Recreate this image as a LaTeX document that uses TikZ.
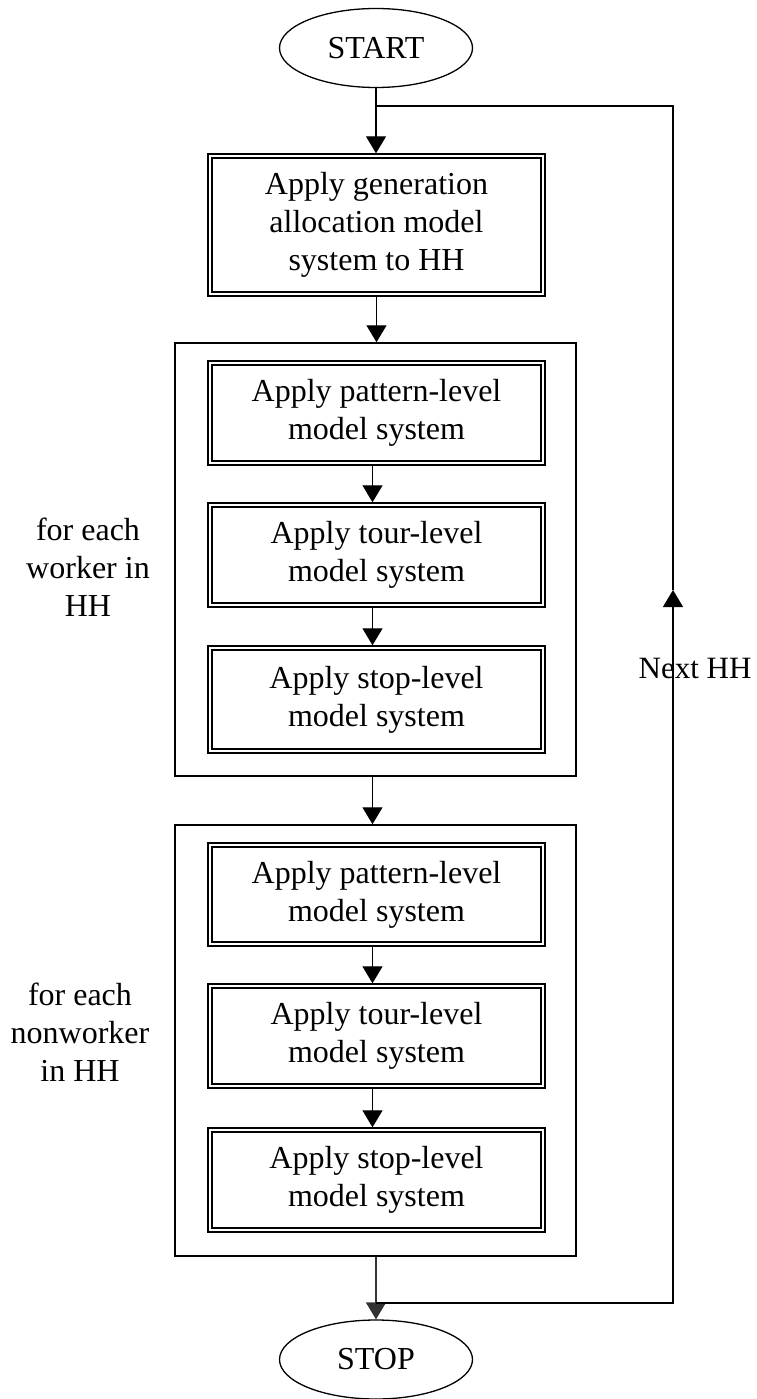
\documentclass[tikz,border=0pt]{standalone}
\usepackage{fontspec}
\setmainfont{Liberation Serif}
\usetikzlibrary{shapes.geometric,arrows.meta}
\begin{document}
\begin{tikzpicture}[x=1pt,y=-1pt,
  txt/.style={font=\fontsize{32}{38}\selectfont, align=center},
  term/.style={ellipse, draw, line width=1.3pt, minimum width=193pt, minimum height=79pt, inner sep=0pt, txt},
  proc/.style={draw, line width=1.4pt, minimum width=337pt, inner sep=0pt, txt},
  group/.style={draw, line width=1.5pt, minimum width=401pt, inner sep=0pt},
  conn/.style={line width=1.3pt},
  arr/.style={conn, -{Triangle[width=20pt,length=17pt]}},
]
\useasboundingbox (0,0) rectangle (757,1399);

% containers
\node[group, minimum height=433pt] (w) at (375.5,559.5) {};
\node[group, minimum height=431pt] (nw) at (375.5,1040.5) {};

% terminals
\node[term] (start) at (376,48) {START};
\node[term] (stop) at (376,1359.5) {STOP};

% process boxes
\node[proc, minimum height=142pt] (gen) at (376.5,225) {Apply generation\\allocation model\\system to HH};
\node[proc, minimum height=104pt] (pa) at (376.5,413) {Apply pattern-level\\model system};
\node[proc, minimum height=104pt] (pb) at (376.5,555) {Apply tour-level\\model system};
\node[proc, minimum height=107pt] (pc) at (376.5,699.5) {Apply stop-level\\model system};
\node[proc, minimum height=103pt] (pd) at (376.5,894.5) {Apply pattern-level\\model system};
\node[proc, minimum height=104pt] (pe) at (376.5,1036) {Apply tour-level\\model system};
\node[proc, minimum height=104pt] (pf) at (376.5,1180) {Apply stop-level\\model system};

\foreach \n in {gen,pa,pb,pc,pd,pe,pf}
  \draw[line width=2pt] ([shift={(5,5)}]\n.north west) rectangle ([shift={(-5,-5)}]\n.south east);

% side labels
\node[txt] (wlab) at (88,567) {for each\\worker in\\HH};
\node[txt] (nwlab) at (80,1032) {for each\\nonworker\\in HH};

% connectors
\draw[arr] (start.south) -- (start.south |- gen.north);
\draw[arr] (gen.south) -- (gen.south |- w.north);
\draw[arr] ([xshift=-4pt]pa.south) -- ([xshift=-4pt]pb.north);
\draw[arr] ([xshift=-4pt]pb.south) -- ([xshift=-4pt]pc.north);
\draw[arr] ([xshift=-3pt]w.south) -- ([xshift=-3pt]nw.north);
\draw[arr] ([xshift=-4pt]pd.south) -- ([xshift=-4pt]pe.north);
\draw[arr] ([xshift=-4pt]pe.south) -- ([xshift=-4pt]pf.north);
\draw[arr, draw=black!80, fill=black!80, line width=1.6pt] (stop.north |- nw.south) -- (stop.north);

% loop back
\coordinate (lb) at (376,1303);
\coordinate (rb) at (673,1303);
\coordinate (mid) at (673,590);
\coordinate (rt) at (673,106);
\coordinate (lt) at (376,106);
\draw[arr] (lb) -- (rb) -- (mid);
\draw[conn] (mid) -- (rt) -- (lt);

\node[txt, font=\fontsize{31}{37}\selectfont] (next) at (695,668) {Next HH};
\end{tikzpicture}
\end{document}
